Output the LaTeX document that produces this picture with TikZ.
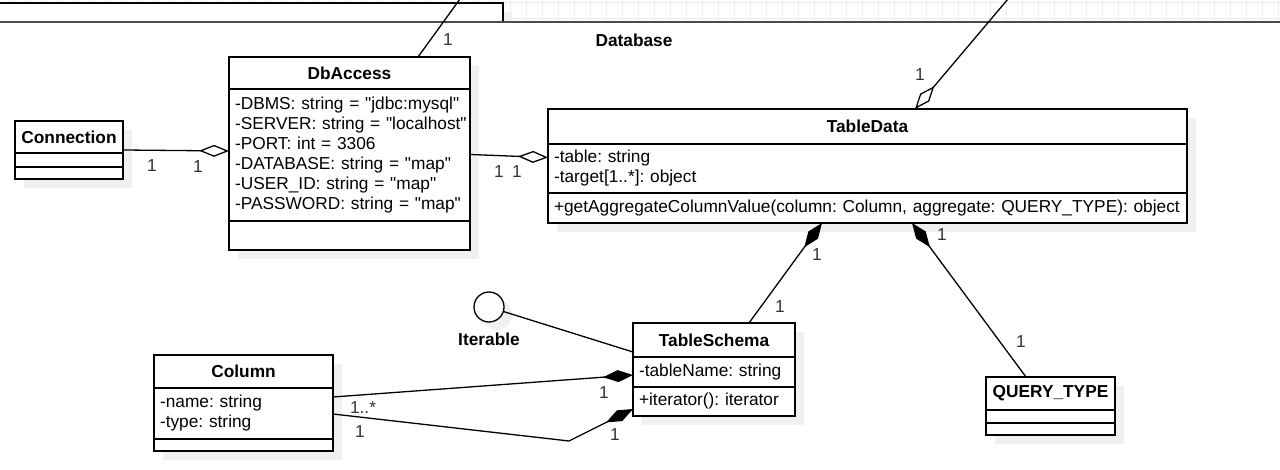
\documentclass[tikz,border=0pt]{standalone}
\usepackage{fontspec}
\setmainfont{Liberation Sans}[Ligatures=TeXOff]
\usetikzlibrary{arrows.meta,calc}
\frenchspacing
\begin{document}
\frenchspacing
\begin{tikzpicture}[x=1pt,y=-1pt,
  ln/.style={line width=1.3pt, draw=black},
  cbox/.style={draw=black, line width=1.3pt, fill=white, anchor=north west, inner sep=0pt, outer sep=0pt, font=\fontsize{17.3}{20}\selectfont},
  hdr/.style={cbox, font=\fontsize{17.3}{20}\selectfont\bfseries, align=center},
  att/.style={cbox, align=left, inner xsep=6pt},
  shd/.style={fill=gray!12, draw=none},
  lbl/.style={text=black!80, inner sep=0pt, font=\fontsize{17.3}{20}\selectfont},
  btxt/.style={inner sep=0pt, font=\fontsize{17.3}{20}\selectfont\bfseries},
  agg/.style={ln, -{Diamond[open, fill=white, length=30pt, width=12pt]}},
  comp/.style={ln, -{Diamond[fill=black, length=30pt, width=12pt]}},
]
\useasboundingbox (0,0) rectangle (1280,470);
\fill[white] (0,0) rectangle (1280,470);
% grid above the package frame
\foreach \gx in {14,30,...,1280} { \draw[gray!15, line width=0.8pt] (\gx,0) -- (\gx,22); }
\draw[gray!15, line width=0.8pt] (0,2.7) -- (1280,2.7);
\draw[gray!15, line width=0.8pt] (0,18.7) -- (1280,18.7);
% top-left box
\fill[gray!12] (9,12) rectangle (512,22);
\draw[fill=white, line width=1.2pt] (-3,3) rectangle (503,22);
\draw[line width=1.6pt, draw=black!70] (0,22) -- (1280,22);
\node[btxt] (dbl) at (634,40) {Database};

% shadows
\fill[shd] (24,130) rectangle (132,188);
\fill[shd] (238,66) rectangle (479,259);
\fill[shd] (557,118) rectangle (1196,232);
\fill[shd] (642,332) rectangle (804,425);
\fill[shd] (163,364) rectangle (342,460);
\fill[shd] (995,386) rectangle (1124,444);
\fill[shd] (497,315) circle (15);

% Connection
\node[hdr, minimum width=108pt, minimum height=32pt] (conh) at (15,121) {Connection};
\node[cbox, minimum width=108pt, minimum height=14pt] (cona) at (15,153) {};
\node[cbox, minimum width=108pt, minimum height=12pt] (conm) at (15,167) {};

% DbAccess
\node[hdr, minimum width=241pt, minimum height=32pt] (dbh) at (229,57) {DbAccess};
\node[att, minimum width=241pt, minimum height=132pt, text width=229pt] (dba) at (229,89)
 {\mbox{-DBMS: string = "jdbc:mysql"}\\\mbox{-SERVER: string = "localhost"}\\\mbox{-PORT: int = 3306}\\\mbox{-DATABASE: string = "map"}\\\mbox{-USER\_ID: string = "map"}\\\mbox{-PASSWORD: string = "map"}};
\node[cbox, minimum width=241pt, minimum height=29pt] (dbm) at (229,221) {};

% TableData
\node[hdr, minimum width=639pt, minimum height=35pt] (tdh) at (548,109) {TableData};
\node[att, minimum width=639pt, minimum height=49pt, text width=627pt] (tda) at (548,144)
 {\mbox{-table: string}\\\mbox{-target[1..*]: object}};
\node[att, minimum width=639pt, minimum height=30pt, text width=627pt] (tdm) at (548,193)
 {\mbox{+getAggregateColumnValue(column: Column, aggregate: QUERY\_TYPE): object}};

% TableSchema
\node[hdr, minimum width=162pt, minimum height=34pt] (tsh) at (633,323) {TableSchema};
\node[att, minimum width=162pt, minimum height=30pt, text width=150pt] (tsa) at (633,357) {\mbox{-tableName: string}};
\node[att, minimum width=162pt, minimum height=29pt, text width=150pt] (tsm) at (633,387) {\mbox{+iterator(): iterator}};

% Column
\node[hdr, minimum width=179pt, minimum height=33pt] (colh) at (154,355) {Column};
\node[att, minimum width=179pt, minimum height=51pt, text width=167pt] (cola) at (154,388) {\mbox{-name: string}\\\mbox{-type: string}};
\node[cbox, minimum width=179pt, minimum height=12pt] (colm) at (154,439) {};

% QUERY_TYPE
\node[hdr, minimum width=129pt, minimum height=33pt] (qh) at (986,377) {QUERY\_TYPE};
\node[cbox, minimum width=129pt, minimum height=13pt] (qa) at (986,410) {};
\node[cbox, minimum width=129pt, minimum height=12pt] (qm) at (986,423) {};

% Iterable interface
\node[draw=black, line width=1.3pt, fill=white, circle, minimum size=30pt, inner sep=0pt] (it) at (489,307) {};
\node[btxt] (itl) at (489,339) {Iterable};

% connection points
\coordinate (cE) at (123,150);
\coordinate (dbW) at (229,151);
\coordinate (dbE) at (470,154.5);
\coordinate (tdW) at (548,157.5);
\coordinate (dbN) at (418,57);
\coordinate (topA) at (460,-1);
\coordinate (topB) at (1008,-1);
\coordinate (tdN) at (915,109);
\coordinate (tsN) at (749,323);
\coordinate (tdS1) at (822,223);
\coordinate (qN) at (1026,377);
\coordinate (tdS2) at (912,223);
\coordinate (tsW1) at (633,352);
\coordinate (colE1) at (333,397);
\coordinate (tsW2) at (633,375);
\coordinate (colE2) at (333,414);
\coordinate (bend) at (569,441);
\coordinate (tsW3) at (633,409);

% connectors
\draw[agg] (cE) -- (dbW);
\draw[agg] (dbE) -- (tdW);
\draw[ln] (dbN) -- (topA);
\draw[agg] (topB) -- (tdN);
\draw[comp] (tsN) -- (tdS1);
\draw[comp] (qN) -- (tdS2);
\draw[ln] (it) -- (tsW1);
\draw[comp] (colE1) -- (tsW2);
\draw[comp] (colE2) -- (bend) -- (tsW3);

% multiplicity labels
\node[lbl] (l1) at (152,166) {1};
\node[lbl] (l2) at (198,167) {1};
\node[lbl] (l3) at (499,172) {1};
\node[lbl] (l4) at (517,172) {1};
\node[lbl] (l5) at (448,40) {1};
\node[lbl] (l6) at (920,75) {1};
\node[lbl] (l7) at (817,255) {1};
\node[lbl] (l8) at (780,307) {1};
\node[lbl] (l9) at (942,235) {1};
\node[lbl] (l10) at (1021,342) {1};
\node[lbl] (l11) at (604,393) {1};
\node[lbl] (l12) at (363,408) {1..*};
\node[lbl] (l13) at (360,432) {1};
\node[lbl] (l14) at (615,435) {1};
\end{tikzpicture}
\end{document}
